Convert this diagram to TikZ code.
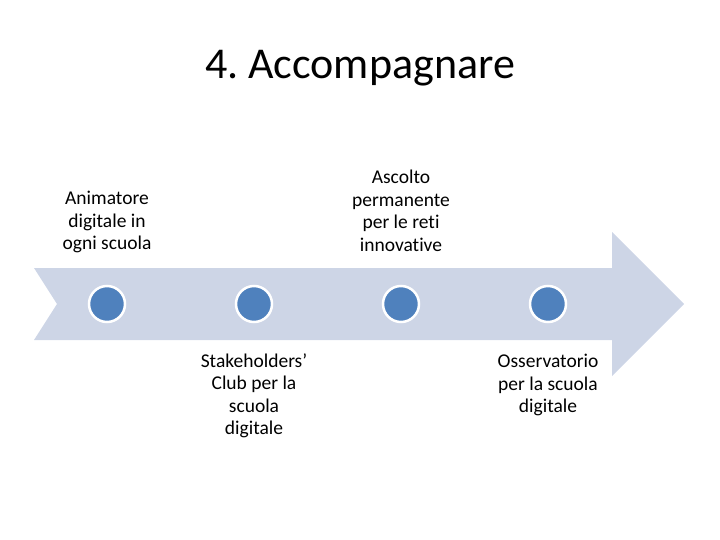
\documentclass[tikz,border=0pt]{standalone}
\usepackage{fontspec}
\setmainfont{Carlito}[Ligatures=NoCommon]
\definecolor{arrowfill}{HTML}{CDD5E6}
\definecolor{dotblue}{HTML}{4F81BD}
\begin{document}
\frenchspacing
\begin{tikzpicture}[x=1pt,y=-1pt,
  lbl/.style={align=center,font=\fontsize{19.5}{22.5}\selectfont,text=black,inner sep=0pt},
  dot/.style={circle,fill=dotblue,draw=white,line width=2.5pt,minimum size=36pt,inner sep=0pt}]
\useasboundingbox (0,0) rectangle (720,540);
\node[font=\fontsize{44}{52}\selectfont,inner sep=0pt] (title) at (360,68) {4. Accompagnare};
\fill[arrowfill] (34,268) -- (612,268) -- (612,232) -- (684,304) -- (612,376) -- (612,340) -- (34,340) -- (57,304) -- cycle;
\node[dot] (d1) at (107,304) {};
\node[dot] (d2) at (254,304) {};
\node[dot] (d3) at (401,304) {};
\node[dot] (d4) at (548,304) {};
\node[lbl] (t1) at (107,222) {Animatore\\digitale in\\ogni scuola};
\node[lbl] (t3) at (401,211) {Ascolto\\permanente\\per le reti\\innovative};
\node[lbl] (t2) at (254,396) {Stakeholders’\\Club per la\\scuola\\digitale};
\node[lbl] (t4) at (548,385) {Osservatorio\\per la scuola\\digitale};
\end{tikzpicture}
\end{document}
